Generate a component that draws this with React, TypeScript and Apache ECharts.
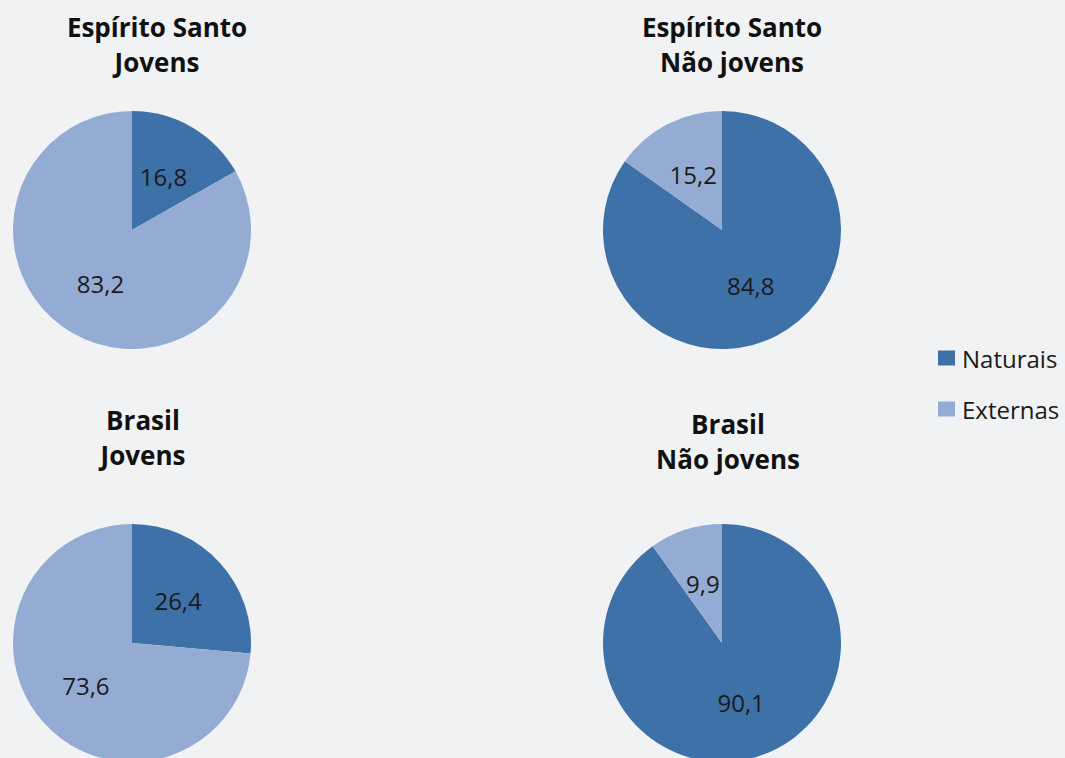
import React, { useEffect, useRef } from "react";
import * as echarts from "echarts";

const categories = ["Naturais", "Externas"];
const esJovens = [16.8, 83.2];
const esNaoJovens = [84.8, 15.2];
const brJovens = [26.4, 73.6];
const brNaoJovens = [90.1, 9.9];
const titles = [
  "Espírito Santo\nJovens",
  "Espírito Santo\nNão jovens",
  "Brasil\nJovens",
  "Brasil\nNão jovens",
];

const COLORS = ["#3e71a7", "#94acd3"];
const FONT = "'Open Sans', 'Noto Sans', sans-serif";

export default function App() {
  const ref = useRef<HTMLDivElement>(null);
  useEffect(() => {
    if (!ref.current) return;
    const chart = echarts.init(ref.current, undefined, { renderer: "svg" });
    const pies = [
      { values: esJovens, center: [132, 230] },
      { values: esNaoJovens, center: [722, 230] },
      { values: brJovens, center: [132, 643] },
      { values: brNaoJovens, center: [722, 643] },
    ];
    const titlePos = [
      { left: 157, top: 9 },
      { left: 732, top: 9 },
      { left: 143, top: 402 },
      { left: 728, top: 406 },
    ];
    chart.setOption({
      animation: false,
      backgroundColor: "#f1f2f4",
      color: COLORS,
      title: titles.map((t, i) => ({
        text: t,
        left: titlePos[i].left,
        top: titlePos[i].top,
        textAlign: "center",
        padding: 0,
        textStyle: {
          fontFamily: FONT,
          fontWeight: "bold",
          fontSize: 26,
          lineHeight: 35,
          color: "#111111",
        },
      })),
      legend: {
        orient: "vertical",
        left: 938,
        top: 345,
        padding: 0,
        itemWidth: 17,
        itemHeight: 15,
        itemGap: 25,
        icon: "rect",
        data: categories,
        textStyle: {
          fontFamily: FONT,
          fontSize: 24,
          lineHeight: 26,
          color: "#1a1a1a",
          padding: [0, 0, 0, 2],
        },
      },
      series: pies.map((p) => ({
        type: "pie",
        center: p.center,
        radius: 119,
        startAngle: 90,
        clockwise: true,
        silent: true,
        itemStyle: { borderWidth: 0 },
        label: {
          show: true,
          position: "inside",
          fontFamily: FONT,
          fontSize: 24,
          color: "#1a1a1a",
          formatter: (d: any) => Number(d.value).toFixed(1).replace(".", ","),
        },
        labelLine: { show: false },
        data: categories.map((c, i) => ({ name: c, value: p.values[i] })),
      })),
    });
    return () => chart.dispose();
  }, []);
  return (
    <div
      ref={ref}
      style={{ position: "fixed", left: 0, top: 0, width: 1065, height: 758 }}
    />
  );
}
